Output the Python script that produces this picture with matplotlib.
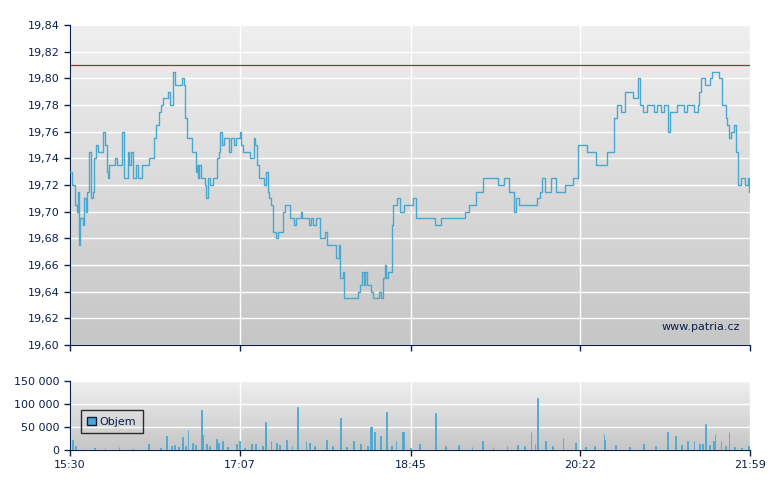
import numpy as np
import matplotlib
matplotlib.use("Agg")
import matplotlib.pyplot as plt
from matplotlib.patches import Rectangle
from matplotlib.colors import LinearSegmentedColormap

# (minutes since 15:30, price)
price_points = [
    (0,19.73),(1,19.72),(2,19.72),(3,19.705),(4,19.70),(4.4,19.715),(5,19.675),(6,19.695),
    (7.6,19.69),(8,19.71),(9,19.70),(10,19.715),(11,19.745),(12,19.71),(13,19.715),(14,19.74),
    (15,19.75),(16,19.745),(17,19.745),(18,19.745),(19,19.76),(20,19.75),(21,19.73),(22,19.725),
    (22.5,19.735),(25,19.735),(26,19.74),(27,19.735),(29,19.735),(30,19.76),(31,19.725),(32,19.725),
    (33,19.745),(34,19.735),(35,19.745),(36,19.725),(38,19.735),(39,19.725),(41,19.735),(44,19.735),
    (45,19.74),(47,19.74),(48,19.755),(49,19.765),(50,19.765),(51,19.775),(52,19.78),(53,19.785),
    (55,19.785),(56,19.79),(57,19.78),(59,19.805),(60,19.795),(63,19.795),(64,19.80),(65,19.795),
    (66,19.77),(67,19.755),(69,19.755),(70,19.745),(71,19.745),(72,19.73),(72.5,19.735),(73,19.725),
    (74,19.735),(75,19.725),(77,19.72),(78,19.71),(79,19.725),(80,19.72),(82,19.725),(84,19.74),
    (85,19.745),(86,19.76),(87,19.75),(88,19.755),(90,19.755),(91,19.745),(92,19.755),(94,19.75),
    (95,19.755),(97,19.76),(98,19.75),(99,19.745),(102,19.745),(103,19.74),(105,19.755),(106,19.75),
    (107,19.735),(108,19.725),(110,19.725),(111,19.72),(112,19.73),(113,19.715),(114,19.71),(115,19.705),
    (116,19.685),(118,19.68),(119,19.685),(120,19.685),(122,19.70),(123,19.705),(125,19.705),(126,19.695),
    (128,19.69),(129,19.695),(131,19.695),(132,19.70),(133,19.695),(135,19.695),(137,19.69),(138,19.695),
    (139,19.69),(141,19.695),(142,19.695),(143,19.68),(145,19.68),(146,19.685),(147,19.675),(151,19.675),
    (152,19.665),(153,19.665),(154,19.675),(154.5,19.65),(156,19.655),(157,19.635),(158,19.635),(162,19.635),
    (165,19.64),(166,19.645),(167,19.655),(168,19.645),(169,19.655),(170,19.645),(172,19.64),(173.5,19.635),
    (175,19.635),(177,19.64),(178,19.635),(179,19.65),(180,19.66),(181,19.65),(182,19.655),(183,19.655),
    (184,19.69),(185,19.705),(187,19.71),(189,19.70),(191,19.705),(195.5,19.705),(196.5,19.71),(198,19.695),
    (199,19.695),(204,19.695),(209,19.69),(212,19.695),(215.5,19.695),(217.4,19.695),(224,19.695),(226,19.70),
    (228,19.705),(230,19.705),(232,19.715),(235,19.715),(236,19.725),(243,19.725),(245,19.72),(248,19.725),
    (250,19.725),(251,19.715),(253,19.715),(254,19.70),(255,19.71),(257,19.705),(265,19.705),(267,19.71),
    (269,19.715),(270,19.725),(272,19.715),(275,19.725),(277.5,19.725),(278,19.715),(282,19.715),(283,19.72),
    (288,19.725),(289.5,19.725),(290.5,19.75),(295,19.75),(296,19.745),(300,19.745),(301,19.735),(305,19.735),
    (307,19.745),(310,19.745),(311,19.77),(313,19.78),(315,19.775),(317.5,19.79),(320,19.79),(322,19.785),
    (325,19.80),(326,19.78),(328,19.775),(330,19.78),(334,19.775),(336,19.78),(338,19.775),(340,19.78),
    (342,19.76),(343,19.775),(345,19.775),(347,19.78),(351,19.775),(353,19.78),(357,19.775),(359,19.78),
    (360,19.79),(361,19.80),(363,19.795),(366,19.80),(367,19.805),(370,19.805),(371,19.80),(372,19.80),
    (373,19.78),(375,19.77),(376,19.765),(377,19.755),(378,19.76),(380,19.765),(381,19.745),(382,19.72),
    (384,19.725),(386,19.72),(388,19.725),(388.5,19.715),(389,19.72),
]
prev_close = 19.81

# (minutes since 15:30, volume)
vol_points = [
    (1.4,22000),(3,8000),(8,3000),(14,5000),(20,4000),(28,6000),(36,3000),(45,12000),(52,5000),
    (55,31000),(58,8000),(60,10000),(62,6000),(64.6,28000),(66,9000),(67.5,44000),(70,15000),
    (72,10000),(75,87000),(75.6,33000),(78,12000),(80,8000),(84,24000),(85,16000),(87,20000),
    (90,6000),(95,14000),(97,20000),(100,5000),(104,12000),(106,14000),(110,8000),(111.6,40000),
    (112,61000),(115,20000),(118,15000),(120,10000),(124,22000),(127,8000),(130,93000),(135,20000),
    (137,16000),(140,8000),(146.6,22000),(150,9000),(154.6,70000),(158,7000),(162,20000),(166,12000),
    (170,9000),(172,50000),(172.5,50000),(174,40000),(177.6,31000),(181,83000),(184,9000),(186.5,20000),
    (190,40000),(190.6,40000),(195,5000),(200,12000),(209,80000),(215,8000),(222,10000),(230,7000),
    (236,20000),(242,6000),(250,8000),(256,10000),(260,9000),(263.7,40000),(266,12000),(267.6,112000),
    (272,20000),(276,8000),(282,26000),(289,16000),(295,6000),(300,9000),(305.5,35000),(306,22000),
    (312,10000),(320,7000),(328,12000),(335,8000),(341.7,40000),(346.5,31000),(350,10000),(353,20000),
    (357,20000),(360,12000),(362,14000),(363.6,57000),(366,10000),(368,20000),(369,35000),(372.4,20000),
    (375,9000),(377,40000),(380,6000),(384,5000),(388,8000),
]

x_ticks = [0, 97, 195, 292, 389]
x_labels = ["15:30", "17:07", "18:45", "20:22", "21:59"]
y_ticks = [19.60,19.62,19.64,19.66,19.68,19.70,19.72,19.74,19.76,19.78,19.80,19.82,19.84]
v_ticks = [0, 50000, 100000, 150000]
v_labels = ["0", "50 000", "100 000", "150 000"]

NAVY = "#0b1f4d"
LINE = "#4aa8d0"

price_t = [p[0] for p in price_points]
price_v = [p[1] for p in price_points]
vol_t = [p[0] for p in vol_points]
vol_v = [p[1] for p in vol_points]

fig = plt.figure(figsize=(7.8, 4.9), dpi=100)
ax = fig.add_axes([70/780, 1-345/490, 680/780, 320/490])
axv = fig.add_axes([70/780, 1-450/490, 680/780, 69/490])

grad = np.linspace(0, 1, 256).reshape(-1, 1)
cmap = LinearSegmentedColormap.from_list("g", ["#efefef", "#c6c6c6"])

for a in (ax, axv):
    a.imshow(grad, aspect="auto", cmap=cmap, extent=[0, 1, 0, 1],
             transform=a.transAxes, zorder=0)
    a.set_xlim(0, 389)
    a.set_xticks(x_ticks)
    a.grid(True, color="white", linewidth=1, zorder=1)
    for s in ("top", "right"):
        a.spines[s].set_visible(False)
    for s in ("left", "bottom"):
        a.spines[s].set_color(NAVY)
    a.tick_params(colors=NAVY, labelcolor=NAVY, labelsize=8, length=4,
                  direction="out", width=1)
    a.set_axisbelow(True)

ax.set_ylim(19.60, 19.84)
ax.set_yticks(y_ticks)
ax.set_yticklabels([f"{v:.2f}".replace(".", ",") for v in y_ticks])
ax.set_xticklabels([])
ax.plot(price_t, price_v, color=LINE, linewidth=1, zorder=3, drawstyle="steps-post")
ax.axhline(prev_close, color="#8a3a3a", linewidth=0.9, zorder=2)
ax.text(0.985, 0.055, "www.patria.cz", transform=ax.transAxes, ha="right",
        va="center", fontsize=8, color=NAVY, zorder=4)

axv.set_ylim(0, 150000)
axv.set_yticks(v_ticks)
axv.set_yticklabels(v_labels)
axv.set_xticklabels(x_labels)
axv.bar(vol_t, vol_v, width=0.5, color=LINE, edgecolor=LINE, linewidth=0.6, zorder=3)
leg = axv.legend([Rectangle((0, 0), 1, 1, facecolor=LINE, edgecolor=NAVY)],
                 ["Objem"], loc="upper left", bbox_to_anchor=(5/680, 0.66),
                 fontsize=8, frameon=True, fancybox=False, handlelength=0.8,
                 handleheight=0.8, borderpad=0.6, handletextpad=0.3)
leg.get_frame().set_edgecolor("black")
leg.get_frame().set_facecolor("none")
for t in leg.get_texts():
    t.set_color(NAVY)

fig.savefig("out.png", dpi=100)
